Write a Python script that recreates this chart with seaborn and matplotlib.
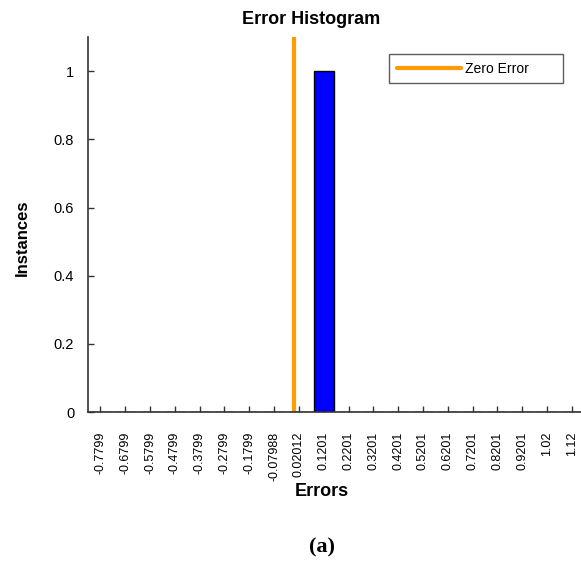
import numpy as np
import pandas as pd
import seaborn as sns
import matplotlib.pyplot as plt

# bin centres (as printed on the axis) and instance counts
bin_labels = ['-0.7799', '-0.6799', '-0.5799', '-0.4799', '-0.3799', '-0.2799',
              '-0.1799', '-0.07988', '0.02012', '0.1201', '0.2201', '0.3201',
              '0.4201', '0.5201', '0.6201', '0.7201', '0.8201', '0.9201',
              '1.02', '1.12']
bin_centers = [-0.7799, -0.6799, -0.5799, -0.4799, -0.3799, -0.2799,
               -0.1799, -0.07988, 0.02012, 0.1201, 0.2201, 0.3201,
               0.4201, 0.5201, 0.6201, 0.7201, 0.8201, 0.9201,
               1.02, 1.12]
counts = [0, 0, 0, 0, 0, 0, 0, 0, 0, 1, 0, 0, 0, 0, 0, 0, 0, 0, 0, 0]

df = pd.DataFrame({"Errors": bin_labels, "Instances": counts})

sns.set_style("white")
plt.rcParams['font.family'] = ['Liberation Sans', 'DejaVu Sans']
plt.rcParams['text.color'] = 'black'

fig = plt.figure(figsize=(5.81, 5.63), dpi=100)
ax = fig.add_axes([0.1515, 0.268, 0.854, 0.666])

sns.barplot(data=df, x="Errors", y="Instances", color="#0000FF",
            saturation=1, edgecolor="black", linewidth=1, width=0.8, ax=ax)

# zero error line at interpolated bin position
zero_pos = np.interp(0, bin_centers, np.arange(len(bin_centers)))
ax.axvline(zero_pos, color="#FF9A00", linewidth=3, label="Zero Error")

ax.set_xlim(-0.5, 19.5)
ax.set_ylim(0, 1.1)
ax.set_yticks([0, 0.2, 0.4, 0.6, 0.8, 1])
ax.set_yticklabels(["0", "0.2", "0.4", "0.6", "0.8", "1"])
ax.tick_params(axis="x", bottom=True, direction="in", length=4, width=1,
               color="#333333", labelcolor="black", labelsize=9,
               rotation=90, pad=14)
ax.tick_params(axis="y", left=True, direction="in", length=4, width=1,
               color="#333333", labelcolor="black", labelsize=10.5, pad=10)
for lab in ax.get_xticklabels():
    lab.set_va("top")

for s in ["top", "right"]:
    ax.spines[s].set_visible(False)
for s in ["left", "bottom"]:
    ax.spines[s].set_color("#333333")
    ax.spines[s].set_linewidth(1.2)

ax.set_xlabel("Errors", fontsize=13, fontweight="bold", color="black")
ax.xaxis.set_label_coords(0.472, -0.19)
ax.set_ylabel("Instances", fontsize=12, fontweight="bold", color="black")
ax.yaxis.set_label_coords(-0.117, 0.464)

fig.text(0.535, 0.966, "Error Histogram", ha="center", va="center",
         fontsize=13, fontweight="bold")

leg = ax.legend(loc="upper left",
                bbox_to_anchor=(389 / 581, 1 - 85 / 563, 174 / 581, 31 / 563),
                bbox_transform=fig.transFigure, mode="expand",
                fancybox=False, frameon=True, handlelength=4.6,
                handletextpad=0.3, fontsize=10, borderpad=0.55,
                borderaxespad=0)
leg.get_frame().set_edgecolor("#333333")
leg.get_frame().set_linewidth(1)

fig.text(0.554, 0.028, "(a)", ha="center", va="center", fontsize=16,
         fontweight="bold", family="Liberation Serif")

fig.savefig("out.png", dpi=100)
